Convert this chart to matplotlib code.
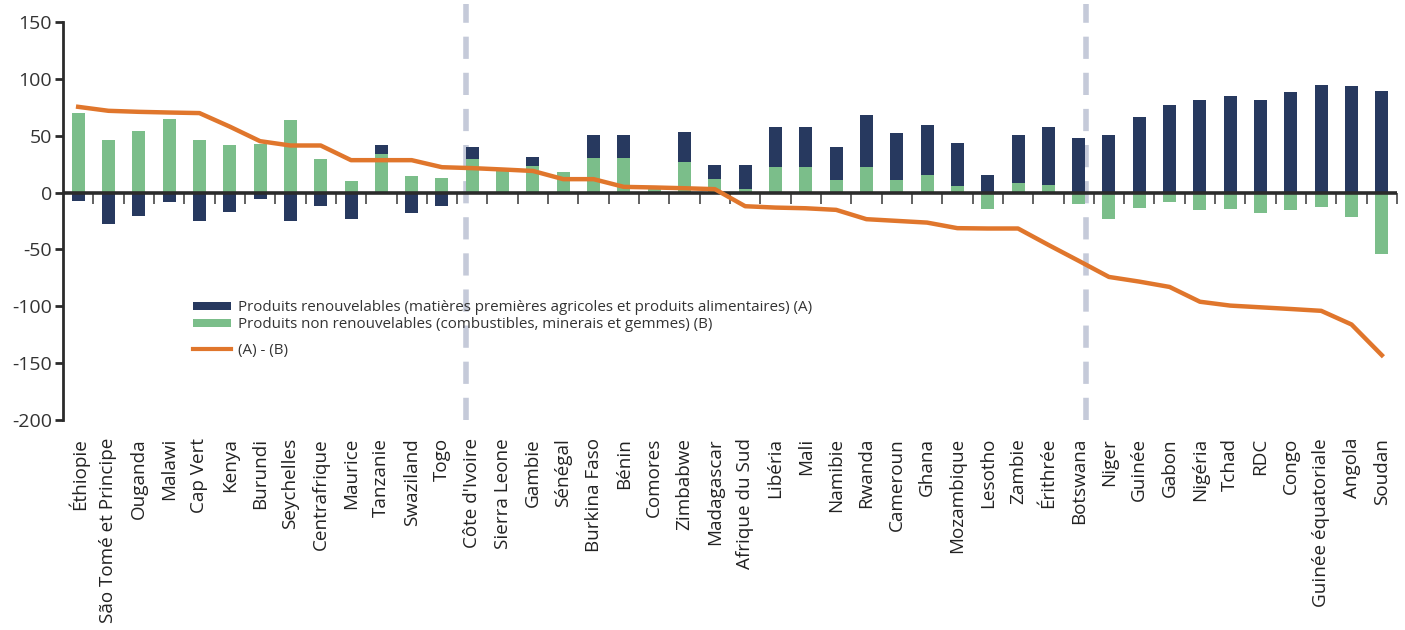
import matplotlib
matplotlib.use("Agg")
import matplotlib.pyplot as plt
import numpy as np
from matplotlib.patches import Patch
from matplotlib.lines import Line2D

countries = ["Éthiopie", "São Tomé et Principe", "Ouganda", "Malawi", "Cap Vert", "Kenya",
             "Burundi", "Seychelles", "Centrafrique", "Maurice", "Tanzanie", "Swaziland", "Togo",
             "Côte d'Ivoire", "Sierra Leone", "Gambie", "Sénégal", "Burkina Faso", "Bénin",
             "Comores", "Zimbabwe", "Madagascar", "Afrique du Sud", "Libéria", "Mali", "Namibie",
             "Rwanda", "Cameroun", "Ghana", "Mozambique", "Lesotho", "Zambie", "Érithrée",
             "Botswana", "Niger", "Guinée", "Gabon", "Nigéria", "Tchad", "RDC", "Congo",
             "Guinée équatoriale", "Angola", "Soudan"]

# Produits renouvelables (A)
renouvelables = [-7.3, -27.5, -20.5, -8.2, -24.9, -17.0, -5.5, -24.9, -11.7, -23.2, 8.0, -17.8, -11.7,
                 10.6, 0.0, 7.9, 0.0, 20.2, 20.2, 0.0, 26.6, 12.3, 21.1, 35.2, 35.2, 29.0,
                 45.8, 41.4, 44.0, 37.9, 15.6, 42.2, 51.0, 48.2,
                 50.7, 66.6, 77.2, 81.6, 85.1, 81.6, 88.6, 94.8, 93.9, 89.5]
# Produits non renouvelables (B)
non_renouvelables = [70.2, 46.4, 54.3, 64.9, 46.4, 42.0, 43.1, 64.0, 29.7, 10.3, 34.0, 14.7, 12.9,
                     29.6, 19.6, 23.5, 18.0, 30.5, 30.5, 3.6, 26.9, 11.8, 3.0, 22.6, 22.6, 11.2,
                     22.6, 11.2, 15.6, 5.9, -14.4, 8.5, 6.8, -9.9,
                     -23.2, -13.5, -8.2, -15.2, -14.4, -17.9, -15.2, -12.6, -21.4, -53.7]
# (A) - (B)
difference = [75.4, 71.9, 71.0, 70.4, 69.9, 58.0, 45.2, 41.4, 41.4, 28.5, 28.5, 28.5, 22.3,
              21.5, 20.3, 19.0, 11.8, 11.8, 5.0, 4.5, 3.8, 3.0, -12.0, -13.2, -13.8, -15.2,
              -23.4, -24.9, -26.4, -31.3, -31.6, -31.6, -46.0, -60.0,
              -74.2, -78.3, -83.0, -96.0, -99.4, -100.9, -102.4, -104.0, -116.0, -143.0]

yticks = [-200, -150, -100, -50, 0, 50, 100, 150]
group_separators = [12.78, 33.23]

NAVY = "#27395f"
GREEN = "#7bbe8a"
ORANGE = "#e0762c"
DASH = "#c5cad9"
DARK = "#2b2b2b"

plt.rcParams['font.family'] = ['Open Sans', 'DejaVu Sans']

fig = plt.figure(figsize=(14.05, 6.30), dpi=100)
ax = fig.add_axes([63/1405, 1 - 420/630, (1397 - 63)/1405, (420 - 22)/630])

x = np.arange(len(countries))
A = np.array(renouvelables)
B = np.array(non_renouvelables)
w = 0.43

green_bottom = np.zeros_like(B)
blue_bottom = np.where(np.sign(A) == np.sign(B), B, 0.0)

ax.bar(x, B, width=w, bottom=green_bottom, color=GREEN, zorder=2)
ax.bar(x, A, width=w, bottom=blue_bottom, color=NAVY, zorder=2)
ax.plot(x, difference, color=ORANGE, lw=3.2, zorder=4, solid_joinstyle='round')

for s in group_separators:
    ax.plot([s, s], [-200, 166], color=DASH, lw=4, dashes=(4, 2.5), clip_on=False, zorder=1)

ax.axhline(0, color=DARK, lw=2.6, zorder=3)

ax.set_xlim(-0.5, len(countries) - 0.5)
ax.set_ylim(-200, 150)

for side in ['top', 'right', 'bottom']:
    ax.spines[side].set_visible(False)
ax.spines['left'].set_color(DARK)
ax.spines['left'].set_linewidth(2)

ax.set_yticks(yticks)
ax.set_yticklabels([str(v) for v in yticks], fontsize=14, color="#333333")
ax.tick_params(axis='y', length=6, width=2, color=DARK, pad=2)

ax.set_xticks(x)
ax.set_xticklabels(countries, rotation=90, fontsize=13.6, color="#222222", va='top')
ax.tick_params(axis='x', length=0, pad=13)

# boundary tick marks below the zero line
sec = ax.secondary_xaxis(200/350)
sec.spines['bottom'].set_visible(False)
sec.spines['top'].set_visible(False)
sec.xaxis.set_ticks_position('bottom')
sec.set_xticks(np.arange(len(countries)) + 0.5)
sec.set_xticklabels([])
sec.tick_params(axis='x', which='both', bottom=True, top=False, length=8, width=1.3,
                color="#555555", direction='out')

bar_handles = [Patch(facecolor=NAVY, edgecolor='none'),
               Patch(facecolor=GREEN, edgecolor='none')]
bar_labels = ["Produits renouvelables (matières premières agricoles et produits alimentaires) (A)",
              "Produits non renouvelables (combustibles, minerais et gemmes) (B)"]
leg1 = ax.legend(bar_handles, bar_labels, loc='upper left', bbox_to_anchor=(193/1405, 1 - 300/630),
                 bbox_transform=fig.transFigure, frameon=False, fontsize=10.9,
                 handlelength=2.5, handleheight=0.45, handletextpad=0.45, labelspacing=0.15,
                 borderaxespad=0, borderpad=0)
for t in leg1.get_texts():
    t.set_color("#333333")
ax.add_artist(leg1)

leg2 = ax.legend([Line2D([0], [0], color=ORANGE, lw=3)], ["(A) - (B)"], loc='upper left',
                 bbox_to_anchor=(193/1405, 1 - 343/630), bbox_transform=fig.transFigure,
                 frameon=False, fontsize=10.9, handlelength=2.5, handletextpad=0.45,
                 borderaxespad=0, borderpad=0)
for t in leg2.get_texts():
    t.set_color("#333333")

fig.savefig("out.png", dpi=100)
